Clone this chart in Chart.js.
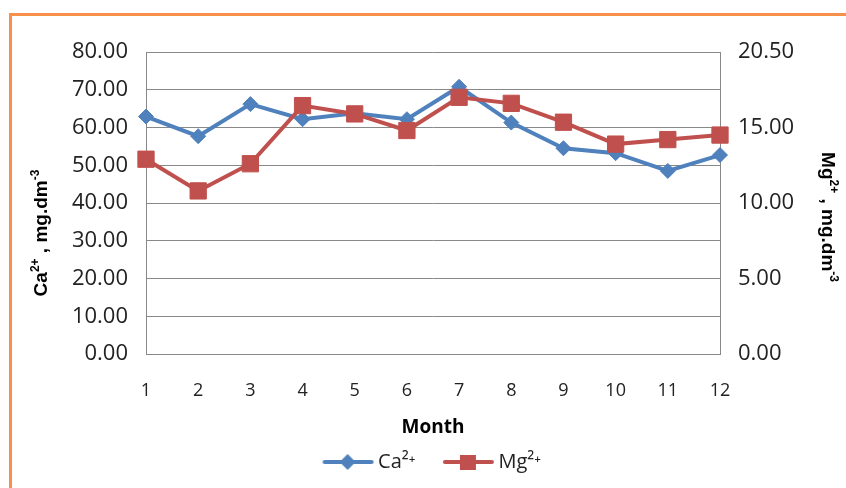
<!DOCTYPE html>
<html>
<head>
<meta charset="utf-8">
<script src="https://cdn.jsdelivr.net/npm/chart.js@4/dist/chart.umd.min.js"></script>
<style>
  html, body { margin: 0; padding: 0; background: #fff; }
  #wrap { position: relative; width: 846px; height: 488px; overflow: hidden; }
  #c { position: absolute; left: 0; top: 0; }
  #frame { position: absolute; left: 9px; top: 13px; right: -10px; bottom: -10px;
           border-top: 3px solid #F7904A; border-left: 3px solid #F7904A; pointer-events: none; }
</style>
</head>
<body>
<div id="wrap">
  <canvas id="c" width="846" height="488"></canvas>
  <div id="frame"></div>
</div>
<script>
// Monthly calcium and magnesium concentrations
const months = ['1', '2', '3', '4', '5', '6', '7', '8', '9', '10', '11', '12'];
const caValues = [62.9, 57.7, 66.2, 62.2, 63.8, 62.2, 70.8, 61.3, 54.5, 53.2, 48.5, 52.7];
const mgValues = [12.9, 10.8, 12.6, 16.45, 15.9, 14.8, 17.0, 16.6, 15.35, 13.9, 14.2, 14.5];

// Right-hand axis tick positions and the labels printed next to them
const rightTickValues = [0, 5, 10, 15, 20];
const rightTickLabels = ['0.00', '5.00', '10.00', '15.00', '20.50'];

const CA_COLOR = '#4F81BD';
const MG_COLOR = '#C0504D';
const GRID = '#888888';
const TEXT = '#222222';

Chart.defaults.font.family = "'Open Sans', 'DejaVu Sans', sans-serif";
Chart.defaults.color = TEXT;

// Legend symbol: a short line with the series marker in its middle
function legendSymbol(color, shape) {
  const c = document.createElement('canvas');
  c.width = 78; c.height = 22;
  const g = c.getContext('2d');
  g.strokeStyle = color;
  g.fillStyle = color;
  g.lineWidth = 4;
  g.lineCap = 'round';
  g.beginPath();
  g.moveTo(27, 11);
  g.lineTo(74, 11);
  g.stroke();
  const cx = 50, cy = 11;
  g.beginPath();
  if (shape === 'diamond') {
    g.moveTo(cx - 8, cy); g.lineTo(cx, cy - 8); g.lineTo(cx + 8, cy); g.lineTo(cx, cy + 8);
    g.closePath();
    g.fill();
  } else {
    g.fillRect(cx - 8, cy - 7, 16, 15);
  }
  return c;
}
const legendSymbols = [legendSymbol(CA_COLOR, 'diamond'), legendSymbol(MG_COLOR, 'square')];

// Draws a text run with superscript parts, centred on (x, y) and rotated
function drawRich(ctx, parts, x, y, rotation, size, supSize) {
  ctx.save();
  ctx.translate(x, y);
  ctx.rotate(rotation);
  ctx.fillStyle = '#000';
  ctx.textBaseline = 'alphabetic';
  ctx.textAlign = 'left';
  const mainFont = `bold ${size}px 'Liberation Sans', Arial, sans-serif`;
  const supFont = `bold ${supSize}px 'Liberation Sans', Arial, sans-serif`;
  let total = 0;
  const widths = parts.map(p => {
    ctx.font = p.sup ? supFont : mainFont;
    const w = ctx.measureText(p.t).width;
    total += w;
    return w;
  });
  let cx = -total / 2;
  const base = size * 0.36;
  parts.forEach((p, i) => {
    ctx.font = p.sup ? supFont : mainFont;
    ctx.fillText(p.t, cx, p.sup ? base - size * 0.4 : base);
    cx += widths[i];
  });
  ctx.restore();
}

const axisTitles = {
  id: 'axisTitles',
  afterDraw(chart) {
    const ctx = chart.ctx;
    drawRich(ctx, [{t: 'Ca'}, {t: '2+', sup: true}, {t: ' , mg.dm'}, {t: '-3', sup: true}],
             40, 233, -Math.PI / 2, 19, 12);
    drawRich(ctx, [{t: 'Mg'}, {t: '2+', sup: true}, {t: ' , mg.dm'}, {t: '-3', sup: true}],
             829, 217, Math.PI / 2, 19, 12);
  }
};

new Chart(document.getElementById('c'), {
  type: 'line',
  data: {
    labels: months,
    datasets: [
      {
        label: 'Ca²⁺',
        data: caValues,
        yAxisID: 'y',
        borderColor: CA_COLOR,
        backgroundColor: CA_COLOR,
        borderWidth: 4,
        pointStyle: 'rectRot',
        pointRadius: 7.5,
        pointBorderWidth: 1,
        pointBackgroundColor: CA_COLOR,
        pointBorderColor: CA_COLOR,
        tension: 0,
        order: 1
      },
      {
        label: 'Mg²⁺',
        data: mgValues,
        yAxisID: 'y1',
        borderColor: MG_COLOR,
        backgroundColor: MG_COLOR,
        borderWidth: 4,
        pointStyle: 'rect',
        pointRadius: 11.5,
        pointBorderWidth: 1,
        pointBackgroundColor: MG_COLOR,
        pointBorderColor: MG_COLOR,
        tension: 0,
        order: 0
      }
    ]
  },
  options: {
    responsive: false,
    devicePixelRatio: 1,
    animation: false,
    layout: { padding: { left: 0, right: 0, top: 52, bottom: 6 } },
    plugins: {
      tooltip: { enabled: false },
      legend: {
        position: 'bottom',
        labels: {
          usePointStyle: true,
          pointStyleWidth: 63,
          padding: 10,
          color: TEXT,
          font: { size: 20 },
          generateLabels(chart) {
            const items = Chart.defaults.plugins.legend.labels.generateLabels(chart);
            items.sort((a, b) => a.datasetIndex - b.datasetIndex);
            items.forEach(it => { it.pointStyle = legendSymbols[it.datasetIndex]; });
            return items;
          }
        }
      }
    },
    scales: {
      x: {
        type: 'category',
        offset: false,
        grid: { display: false, drawTicks: false },
        border: { display: true, color: GRID, width: 1 },
        ticks: { padding: 26, color: TEXT, font: { size: 18 }, maxRotation: 0 },
        title: {
          display: true,
          text: 'Month',
          color: '#000',
          font: { size: 19, weight: 'bold' },
          padding: { top: 0, bottom: 3 }
        },
        afterFit(scale) { scale.height = 88; }
      },
      y: {
        position: 'left',
        min: 0,
        max: 80,
        ticks: {
          stepSize: 10,
          padding: 18,
          color: TEXT,
          font: { size: 22 },
          callback: v => Number(v).toFixed(2)
        },
        grid: { color: GRID, lineWidth: 1, drawTicks: false },
        border: { display: true, color: GRID, width: 1 },
        afterFit(scale) { scale.width = 146; }
      },
      y1: {
        position: 'right',
        min: 0,
        max: 20,
        afterBuildTicks(scale) {
          scale.ticks = rightTickValues.map(v => ({ value: v }));
        },
        ticks: {
          padding: 18,
          color: TEXT,
          font: { size: 22 },
          callback: (v, i) => rightTickLabels[i]
        },
        grid: { drawOnChartArea: false, drawTicks: false },
        border: { display: true, color: GRID, width: 1 },
        afterFit(scale) { scale.width = 126; }
      }
    }
  },
  plugins: [axisTitles]
});
</script>
</body>
</html>
